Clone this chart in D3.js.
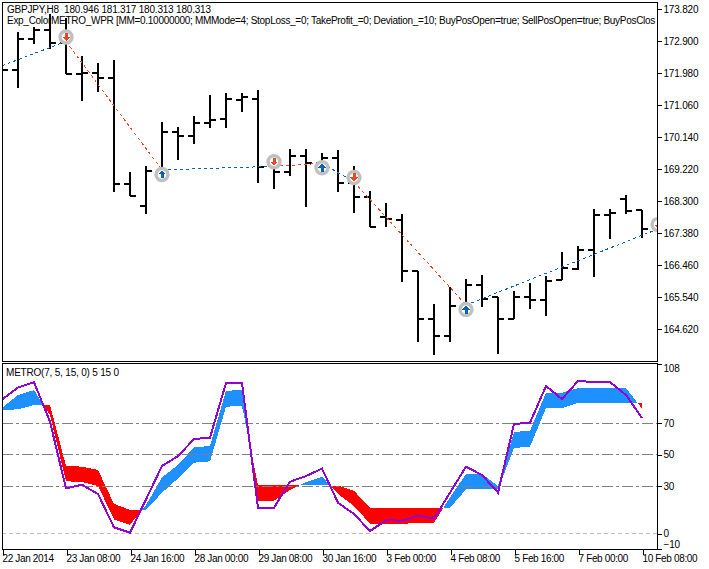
<!DOCTYPE html>
<html><head><meta charset="utf-8">
<script src="https://cdnjs.cloudflare.com/ajax/libs/d3/7.8.5/d3.min.js"></script>
<style>
html,body{margin:0;padding:0;background:#fff;overflow:hidden}
svg{display:block}
text{font-family:"Liberation Sans",Arial,sans-serif;font-size:10px;letter-spacing:-0.2px;fill:#000}
</style></head><body>
<script>
const opens=[172.075,172.075,172.974,173.233,172.859,171.96,171.997,171.853,168.806,168.173,169.179,170.292,170.177,170.551,170.666,171.212,171.249,169.314,169.151,169.602,169.401,169.553,168.826,168.423,167.84,167.771,166.304,164.916,164.436,165.289,165.902,165.54,164.907,165.557,165.471,166.046,166.345,166.908,167.897,168.374,168.049];
const highs=[172.305,173.167,173.319,173.685,173.57,172.477,172.267,172.362,169.133,169.314,170.58,170.436,170.752,171.356,171.413,171.405,171.5,169.343,169.795,169.795,169.688,169.775,169.314,168.587,168.242,167.926,166.304,165.338,165.827,166.066,166.181,165.548,165.721,165.951,166.152,166.842,167.014,168.07,168.07,168.481,168.049];
const lows=[171.96,171.557,172.822,172.678,171.96,171.192,171.451,168.576,168.461,167.926,168.883,169.487,169.947,170.407,170.407,170.876,168.834,168.662,169.036,168.144,169.056,168.576,167.972,167.561,167.569,165.988,164.263,163.881,164.263,165.002,165.269,163.909,164.907,165.212,165.011,166.037,166.324,166.132,167.224,167.926,167.253];
const closes=[172.075,172.974,173.233,172.859,171.96,171.997,171.853,168.806,168.461,169.179,170.292,170.177,170.551,170.637,171.232,171.29,169.294,169.151,169.602,169.409,169.553,168.826,168.423,167.561,167.782,166.304,164.916,164.436,165.289,165.908,165.499,164.924,165.557,165.471,166.017,166.382,166.908,167.897,167.955,168.029,167.512];

const tradeBars=[0,4,10,17,20,22,29,41];
const tradePrices=[172.198,172.894,169.2,169.306,169.392,168.855,165.318,167.503];
const tradeKinds=["buy","sell","buy","sell","buy","sell","buy","sell"];
const markerIndex=[1,2,3,4,5,6,7];

const wpr=[85.2,92.8,96.2,71.0,28.7,31.0,25.1,3.95,0.56,21.7,42.9,49.2,60.0,60.9,95.6,95.6,16.4,16.4,32.9,36.5,41.2,19.6,12.4,1.6,8.4,8.2,11.4,9.5,25.96,42.5,37.2,26.0,69.6,70.4,93.7,85.4,96.9,96.2,96.2,88.0,73.4];
const fast=[79.9,88.0,91.1,75.3,33.2,32.7,30.2,9.0,5.6,18.1,35.7,43.5,54.7,55.6,90.7,91.1,20.9,20.9,27.7,32.7,36.1,25.1,17.5,6.3,6.3,6.3,6.5,6.9,23.0,37.8,37.8,30.2,64.5,65.3,89.4,89.4,92.4,92.4,92.4,92.4,79.3];
const slow=[78.4,78.9,81.6,81.6,42.9,42.5,40.35,18.8,15.0,15.0,25.96,35.06,45.0,45.85,80.6,81.0,30.6,30.6,30.6,30.6,30.6,30.4,27.2,16.2,16.2,16.2,16.2,16.2,16.4,28.07,28.5,28.07,54.3,55.2,79.7,79.7,83.1,83.1,83.1,83.1,83.1];

const priceTicks=[173.82,172.9,171.98,171.06,170.14,169.22,168.3,167.38,166.46,165.54,164.62];
const levelTicks=[108,70,50,30,0,-10];
const gridLevels=[70,50,30,0];
const timeTickBars=[0,4,8,12,16,20,24,28,32,36,40];
const timeLabels=["22 Jan 2014","23 Jan 08:00","24 Jan 16:00","28 Jan 00:00","29 Jan 08:00","30 Jan 16:00","3 Feb 00:00","4 Feb 08:00","5 Feb 16:00","7 Feb 00:00","10 Feb 08:00"];

const titleLine1="GBPJPY,H8  180.946 181.317 180.313 180.313";
const titleLine2="Exp_ColorMETRO_WPR [MM=0.10000000; MMMode=4; StopLoss_=0; TakeProfit_=0; Deviation_=10; BuyPosOpen=true; SellPosOpen=true; BuyPosClos";
const indicatorTitle="METRO(7, 5, 15, 0) 5 15 0";

const W=709,H=569,L=2,R=657,T1=2,B1=361,T2=364,B2=549;
const BLUE="#1E90FF",RED="#FF0000",PURPLE="#9400D3",TRADE_BLUE="#0a62b0",TRADE_RED="#ee4620";

const svg=d3.select("body").append("svg").attr("width",W).attr("height",H);
const defs=svg.append("defs");
defs.append("clipPath").attr("id","c1").append("rect").attr("x",L).attr("y",T1).attr("width",R-L).attr("height",B1-T1);
defs.append("clipPath").attr("id","c2").append("rect").attr("x",L).attr("y",T2).attr("width",R-L).attr("height",B2-T2);

const x=d3.scaleLinear().domain([0,40]).range([2,642]);
const yP=d3.scaleLinear().domain([173.82,164.62]).range([9.3,329.3]);
const yI=d3.scaleLinear().domain([108,-10]).range([363.5,549.3]);

// main panel
const g1=svg.append("g").attr("clip-path","url(#c1)");
const bars=g1.append("g").attr("stroke","#000").attr("stroke-width",2).attr("shape-rendering","crispEdges");
opens.forEach((o,i)=>{
  const cx=x(i);
  bars.append("line").attr("x1",cx).attr("x2",cx).attr("y1",yP(highs[i])).attr("y2",yP(lows[i]));
  bars.append("line").attr("x1",cx-6).attr("x2",cx).attr("y1",yP(o)).attr("y2",yP(o));
  bars.append("line").attr("x1",cx).attr("x2",cx+6).attr("y1",yP(closes[i])).attr("y2",yP(closes[i]));
});
const xt=d3.scaleLinear().domain([0,41]).range([2,658]);
for(let k=0;k<tradeBars.length-1;k++){
  g1.append("line").attr("x1",xt(tradeBars[k])).attr("y1",yP(tradePrices[k]))
    .attr("x2",xt(tradeBars[k+1])).attr("y2",yP(tradePrices[k+1]))
    .attr("stroke",tradeKinds[k]==="buy"?TRADE_BLUE:TRADE_RED)
    .attr("stroke-width",1).attr("stroke-dasharray","3 3").attr("shape-rendering","crispEdges");
}
markerIndex.forEach(k=>{
  const up=tradeKinds[k]==="buy";
  const m=g1.append("g").attr("transform",`translate(${xt(tradeBars[k])},${yP(tradePrices[k])+(up?4.5:-4.5)})`);
  m.append("circle").attr("r",6).attr("fill","#fff").attr("stroke","#c0c0c0").attr("stroke-width",3.4);
  const s=up?1:-1;
  m.append("path").attr("d",`M0,${-4*s}L4,0L1.5,0L1.5,${4*s}L-1.5,${4*s}L-1.5,0L-4,0Z`)
    .attr("fill",up?TRADE_BLUE:TRADE_RED).attr("shape-rendering","crispEdges");
});
const t1=svg.append("g").attr("clip-path","url(#c1)");
t1.append("text").attr("x",7).attr("y",12.5).text(titleLine1).style("white-space","pre");
t1.append("text").attr("x",7).attr("y",24).style("letter-spacing","-0.29px").text(titleLine2);

// indicator panel
const g2=svg.append("g").attr("clip-path","url(#c2)");
const band=g2.append("g").attr("shape-rendering","crispEdges");
const area=d3.area().x(d=>d[0]).y0(d=>d[1]).y1(d=>d[2]);
for(let i=0;i<fast.length-1;i++){
  const a0=fast[i]-slow[i],a1=fast[i+1]-slow[i+1];
  const x0=x(i),x1=x(i+1);
  if(a0*a1<0){
    const t=a0/(a0-a1),xc=x0+(x1-x0)*t,vc=fast[i]+(fast[i+1]-fast[i])*t;
    band.append("path").attr("d",area([[x0,yI(fast[i]),yI(slow[i])],[xc,yI(vc),yI(vc)]])).attr("fill",a0>0?BLUE:RED);
    band.append("path").attr("d",area([[xc,yI(vc),yI(vc)],[x1,yI(fast[i+1]),yI(slow[i+1])]])).attr("fill",a1>0?BLUE:RED);
  } else {
    band.append("path").attr("d",area([[x0,yI(fast[i]),yI(slow[i])],[x1,yI(fast[i+1]),yI(slow[i+1])]])).attr("fill",a0+a1>0?BLUE:RED);
  }
}
gridLevels.forEach(v=>{
  g2.append("line").attr("x1",L).attr("x2",R).attr("y1",yI(v)).attr("y2",yI(v))
    .attr("stroke",v===0?"#c0c0c0":"#808080").attr("stroke-width",1)
    .attr("stroke-dasharray",v===0?"4 3":"11 3 3 3").attr("shape-rendering","crispEdges");
});
g2.append("path").attr("d",d3.line().x((d,i)=>x(i)).y(d=>yI(d))(wpr))
  .attr("fill","none").attr("stroke",PURPLE).attr("stroke-width",2).attr("shape-rendering","crispEdges");
svg.append("text").attr("x",6).attr("y",375.5).style("letter-spacing","-0.2px").text(indicatorTitle);

// frames
const frame=svg.append("g").attr("stroke","#000").attr("fill","none").attr("shape-rendering","crispEdges");
frame.append("rect").attr("x",L+.5).attr("y",T1+.5).attr("width",R-L).attr("height",B1-T1);
frame.append("rect").attr("x",L+.5).attr("y",T2-.5).attr("width",R-L).attr("height",B2-T2+1);

// axes
function styleAxis(g){g.select(".domain").remove();g.selectAll("line").attr("stroke","#000").attr("shape-rendering","crispEdges");g.selectAll("text").attr("fill","#000");}
const axP=svg.append("g").attr("transform",`translate(${R+.5},0)`)
  .call(d3.axisRight(yP).tickValues(priceTicks).tickSize(4).tickPadding(2).tickFormat(d3.format(".3f")));
styleAxis(axP);
axP.selectAll(".tick text").attr("dy","0.3em");
const axI=svg.append("g").attr("transform",`translate(${R+.5},0)`)
  .call(d3.axisRight(yI).tickValues(levelTicks).tickSize(4).tickPadding(2).tickFormat(d3.format("d")));
styleAxis(axI);
axI.selectAll(".tick text").attr("dy",d=>d===108?"0.8em":d===-10?"-0.2em":"0.3em");
const axT=svg.append("g").attr("transform",`translate(0,${B2+.5})`)
  .call(d3.axisBottom(x).tickValues(timeTickBars).tickSize(5).tickPadding(0).tickFormat((d,i)=>timeLabels[i]));
styleAxis(axT);
axT.selectAll(".tick text").attr("text-anchor","start").attr("dx",0).style("letter-spacing","-0.35px");
axT.selectAll(".tick line").attr("transform","translate(.5,0)");
</script>
</body></html>
